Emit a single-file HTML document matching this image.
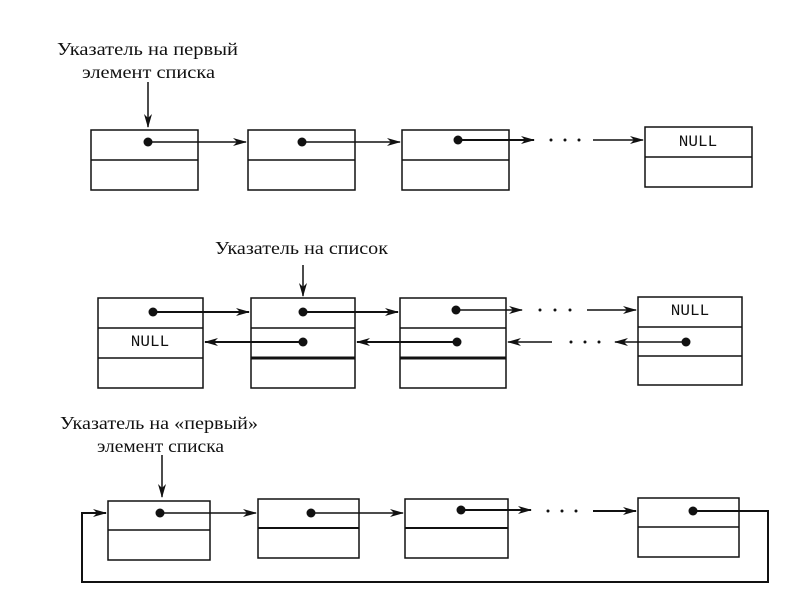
<!DOCTYPE html>
<html><head><meta charset="utf-8"><style>body{margin:0;background:#fff}svg{display:block}</style></head>
<body>
<svg width="800" height="600" viewBox="0 0 800 600" xmlns="http://www.w3.org/2000/svg" font-family="Liberation Serif, serif">
<defs>
<marker id="a" markerWidth="14" markerHeight="8" refX="13" refY="4" orient="auto" markerUnits="userSpaceOnUse">
<path d="M0,0 L14,4 L0,8 L4,4 Z" fill="#111"/></marker>
</defs>
<g fill="none" stroke="#111" stroke-width="1.5">
<rect x="91" y="130" width="107" height="60"/><line x1="91" y1="160" x2="198" y2="160"/>
<rect x="248" y="130" width="107" height="60"/><line x1="248" y1="160" x2="355" y2="160"/>
<rect x="402" y="130" width="107" height="60"/><line x1="402" y1="160" x2="509" y2="160"/>
<rect x="645" y="127" width="107" height="60"/><line x1="645" y1="157" x2="752" y2="157"/>
<line x1="148" y1="82" x2="148" y2="127" marker-end="url(#a)"/>
<line x1="148" y1="142" x2="246" y2="142" marker-end="url(#a)"/>
<line x1="302" y1="142" x2="400" y2="142" marker-end="url(#a)"/>
<line x1="458" y1="140" x2="534" y2="140" stroke-width="2" marker-end="url(#a)"/>
<line x1="593" y1="140" x2="643" y2="140" marker-end="url(#a)"/>
<rect x="98" y="298" width="105" height="90"/><line x1="98" y1="328" x2="203" y2="328"/><line x1="98" y1="358" x2="203" y2="358"/>
<rect x="251" y="298" width="104" height="90"/><line x1="251" y1="328" x2="355" y2="328"/><line x1="251" y1="358" x2="355" y2="358" stroke-width="3"/>
<rect x="400" y="298" width="106" height="90"/><line x1="400" y1="328" x2="506" y2="328"/><line x1="400" y1="358" x2="506" y2="358" stroke-width="3"/>
<rect x="638" y="297" width="104" height="88"/><line x1="638" y1="327" x2="742" y2="327"/><line x1="638" y1="356" x2="742" y2="356"/>
<line x1="303" y1="265" x2="303" y2="296" marker-end="url(#a)"/>
<line x1="153" y1="312" x2="249" y2="312" stroke-width="2" marker-end="url(#a)"/>
<line x1="303" y1="312" x2="398" y2="312" stroke-width="2" marker-end="url(#a)"/>
<line x1="456" y1="310" x2="522" y2="310" marker-end="url(#a)"/>
<line x1="587" y1="310" x2="636" y2="310" marker-end="url(#a)"/>
<line x1="303" y1="342" x2="205" y2="342" stroke-width="2" marker-end="url(#a)"/>
<line x1="457" y1="342" x2="357" y2="342" stroke-width="2" marker-end="url(#a)"/>
<line x1="552" y1="342" x2="508" y2="342" marker-end="url(#a)"/>
<line x1="686" y1="342" x2="615" y2="342" marker-end="url(#a)"/>
<rect x="108" y="501" width="102" height="59"/><line x1="108" y1="530" x2="210" y2="530"/>
<rect x="258" y="499" width="101" height="59"/><line x1="258" y1="528" x2="359" y2="528" stroke-width="2"/>
<rect x="405" y="499" width="103" height="59"/><line x1="405" y1="528" x2="508" y2="528" stroke-width="2"/>
<rect x="638" y="498" width="101" height="59"/><line x1="638" y1="527" x2="739" y2="527"/>
<line x1="162" y1="455" x2="162" y2="497" marker-end="url(#a)"/>
<line x1="160" y1="513" x2="256" y2="513" marker-end="url(#a)"/>
<line x1="311" y1="513" x2="403" y2="513" marker-end="url(#a)"/>
<line x1="461" y1="510" x2="531" y2="510" stroke-width="2" marker-end="url(#a)"/>
<line x1="593" y1="511" x2="636" y2="511" stroke-width="2" marker-end="url(#a)"/>
<polyline points="693,511 768,511 768,582 82,582 82,513 106,513" stroke-width="2" marker-end="url(#a)"/>
</g>
<g fill="#111">
<circle cx="148" cy="142" r="4.5"/><circle cx="302" cy="142" r="4.5"/><circle cx="458" cy="140" r="4.5"/>
<circle cx="153" cy="312" r="4.5"/><circle cx="303" cy="312" r="4.5"/><circle cx="456" cy="310" r="4.5"/>
<circle cx="303" cy="342" r="4.5"/><circle cx="457" cy="342" r="4.5"/><circle cx="686" cy="342" r="4.5"/>
<circle cx="160" cy="513" r="4.5"/><circle cx="311" cy="513" r="4.5"/><circle cx="461" cy="510" r="4.5"/><circle cx="693" cy="511" r="4.5"/>
<circle cx="551" cy="140" r="1.5"/><circle cx="565" cy="140" r="1.5"/><circle cx="579" cy="140" r="1.5"/>
<circle cx="540" cy="310" r="1.5"/><circle cx="555" cy="310" r="1.5"/><circle cx="570" cy="310" r="1.5"/>
<circle cx="571" cy="342" r="1.5"/><circle cx="585" cy="342" r="1.5"/><circle cx="599" cy="342" r="1.5"/>
<circle cx="548" cy="511" r="1.5"/><circle cx="562" cy="511" r="1.5"/><circle cx="576" cy="511" r="1.5"/>
</g>
<g font-size="18" fill="#111">
<text x="57" y="55" textLength="181" lengthAdjust="spacingAndGlyphs">Указатель на первый</text>
<text x="82" y="78" textLength="133" lengthAdjust="spacingAndGlyphs">элемент списка</text>
<text x="215" y="254" textLength="173" lengthAdjust="spacingAndGlyphs">Указатель на список</text>
<text x="60" y="429" textLength="198" lengthAdjust="spacingAndGlyphs">Указатель на «первый»</text>
<text x="97" y="452" textLength="127" lengthAdjust="spacingAndGlyphs">элемент списка</text>
</g>
<g font-family="Liberation Mono, monospace" font-size="16" fill="#111">
<text x="698" y="146" text-anchor="middle">NULL</text>
<text x="150" y="346" text-anchor="middle">NULL</text>
<text x="690" y="315" text-anchor="middle">NULL</text>
</g>
</svg>
</body></html>
